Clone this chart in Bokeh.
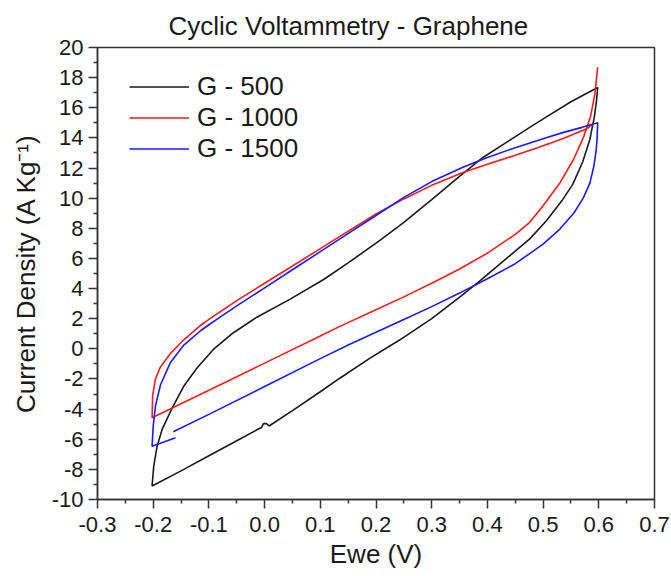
from bokeh.plotting import figure
from bokeh.models import FixedTicker, NumeralTickFormatter, Legend, LegendItem
from bokeh.embed import file_html
from bokeh.resources import INLINE

FONT = "Liberation Sans"

# ---- data ----
series_names = ["G - 500", "G - 1000", "G - 1500"]
series_colors = ["#1a1a1a", "#ff1a1a", "#1a1aff"]

g500_v = [-0.002, 0.004, 0.008, 0.05, 0.1, 0.135, 0.19, 0.243, 0.3, 0.356, 0.386, 0.428,
          0.476, 0.506, 0.535, 0.553, 0.571, 0.584, 0.592, 0.596, 0.598,
          0.55, 0.506, 0.476, 0.43, 0.392, 0.345, 0.3, 0.25, 0.207, 0.15, 0.106, 0.046,
          -0.014, -0.056, -0.092, -0.121, -0.145, -0.166, -0.184, -0.193, -0.199, -0.202,
          -0.15, -0.1, -0.05, -0.005, -0.002]
g500_j = [-4.95, -4.98, -5.12, -4.1, -2.85, -1.95, -0.6, 0.6, 2.0, 3.6, 4.5, 5.8,
          7.3, 8.5, 9.9, 10.9, 12.4, 13.9, 15.4, 16.5, 17.35,
          16.4, 15.4, 14.7, 13.6, 12.7, 11.3, 9.9, 8.4, 7.2, 5.7, 4.6, 3.3,
          2.1, 1.07, -0.04, -1.25, -2.47, -3.93, -5.35, -6.46, -7.78, -9.1,
          -8.1, -7.1, -6.1, -5.2, -4.95]

g1000_v = [0.589, 0.578, 0.535, 0.49, 0.446, 0.4, 0.356, 0.3, 0.25, 0.2, 0.135, 0.1, 0.05,
           0.0, -0.05, -0.1, -0.115, -0.145, -0.169, -0.187, -0.196, -0.201, -0.202,
           -0.1, 0.0, 0.1, 0.135, 0.2, 0.25, 0.3, 0.35, 0.4, 0.45, 0.476, 0.5, 0.53,
           0.555, 0.572, 0.585, 0.593, 0.598]
g1000_j = [14.9, 14.6, 13.95, 13.35, 12.8, 12.25, 11.7, 10.85, 9.95, 8.95, 7.46, 6.65, 5.5,
           4.35, 3.2, 1.95, 1.55, 0.6, -0.3, -1.2, -2.0, -3.1, -4.57,
           -2.75, -0.95, 0.85, 1.49, 2.6, 3.45, 4.35, 5.3, 6.35, 7.6, 8.4, 9.5, 11.0,
           12.6, 14.0, 15.4, 16.9, 18.7]

g1500_v = [-0.164, -0.1, 0.0, 0.1, 0.15, 0.2, 0.25, 0.3, 0.35, 0.4, 0.45, 0.5, 0.53,
           0.555, 0.572, 0.584, 0.591, 0.595, 0.597, 0.598,
           0.57, 0.535, 0.5, 0.446, 0.4, 0.356, 0.3, 0.25, 0.2, 0.135, 0.1, 0.05, 0.0,
           -0.05, -0.074, -0.1, -0.115, -0.145, -0.169, -0.187, -0.196, -0.2, -0.202, -0.16]
g1500_j = [-5.5, -4.35, -2.5, -0.65, 0.25, 1.1, 1.95, 2.8, 3.7, 4.65, 5.65, 6.95, 7.95,
           9.0, 10.0, 11.0, 12.1, 13.1, 14.0, 15.0,
           14.7, 14.35, 13.95, 13.3, 12.7, 12.05, 11.1, 10.05, 8.85, 7.3, 6.45, 5.25, 4.05,
           2.85, 2.25, 1.6, 1.2, 0.25, -0.9, -2.4, -3.8, -5.13, -6.46, -5.9]

x_ticks = [-0.3, -0.2, -0.1, 0.0, 0.1, 0.2, 0.3, 0.4, 0.5, 0.6, 0.7]
x_minor = [-0.25, -0.15, -0.05, 0.05, 0.15, 0.25, 0.35, 0.45, 0.55, 0.65]
y_ticks = [-10, -8, -6, -4, -2, 0, 2, 4, 6, 8, 10, 12, 14, 16, 18, 20]
y_minor = [-9, -7, -5, -3, -1, 1, 3, 5, 7, 9, 11, 13, 15, 17, 19]

title_text = "Cyclic Voltammetry - Graphene"
x_label = "Ewe (V)"
y_label = "Current Density (A Kg\u207b\u00b9)"

# ---- figure ----
p = figure(width=671, height=576, x_range=(-0.3, 0.7), y_range=(-10, 20),
           output_backend="svg", toolbar_location=None,
           min_border_left=97, min_border_right=17, min_border_top=47, min_border_bottom=77)

p.background_fill_color = "white"
p.border_fill_color = "white"
p.grid.visible = False
p.outline_line_color = "#333333"
p.outline_line_width = 1.5

p.title.text = title_text
p.title.align = "left"
p.title.offset = 71
p.title.standoff = 14
p.title.text_font = FONT
p.title.text_font_size = "26px"
p.title.text_font_style = "normal"
p.title.text_color = "#1a1a1a"

p.xaxis.ticker = FixedTicker(ticks=x_ticks, minor_ticks=x_minor)
p.yaxis.ticker = FixedTicker(ticks=y_ticks, minor_ticks=y_minor)
p.xaxis.formatter = NumeralTickFormatter(format="0.0")
p.yaxis.formatter = NumeralTickFormatter(format="0")
p.xaxis.axis_label = x_label
p.yaxis.axis_label = y_label

for ax in (p.xaxis, p.yaxis):
    ax.axis_line_color = "#333333"
    ax.axis_line_width = 1.5
    ax.major_tick_line_color = "#333333"
    ax.minor_tick_line_color = "#333333"
    ax.major_tick_line_width = 1.5
    ax.minor_tick_line_width = 1.5
    ax.major_tick_out = 9
    ax.major_tick_in = 0
    ax.minor_tick_out = 4
    ax.minor_tick_in = 0
    ax.major_label_text_font = FONT
    ax.major_label_text_font_size = "22px"
    ax.major_label_text_color = "#1a1a1a"
    ax.axis_label_text_font = FONT
    ax.axis_label_text_font_size = "26px"
    ax.axis_label_text_font_style = "normal"
    ax.axis_label_text_color = "#1a1a1a"

p.xaxis.major_label_standoff = 8
p.yaxis.major_label_standoff = 5
p.xaxis.axis_label_standoff = 4
p.yaxis.axis_label_standoff = 8

renderers = []
for xs, ys, c in ((g500_v, g500_j, series_colors[0]),
                  (g1000_v, g1000_j, series_colors[1]),
                  (g1500_v, g1500_j, series_colors[2])):
    r = p.line(xs, ys, line_color=c, line_width=1.6)
    renderers.append(r)

legend = Legend(items=[LegendItem(label=n, renderers=[r]) for n, r in zip(series_names, renderers)],
                location=(32, 335))
legend.glyph_width = 60
legend.glyph_height = 31
legend.label_height = 31
legend.spacing = 0
legend.padding = 0
legend.margin = 0
legend.label_standoff = 8
legend.label_text_font = FONT
legend.label_text_font_size = "26px"
legend.label_text_color = "#1a1a1a"
legend.border_line_alpha = 0
legend.background_fill_alpha = 0
p.add_layout(legend)

open("out.html", "w").write(file_html(p, INLINE))
